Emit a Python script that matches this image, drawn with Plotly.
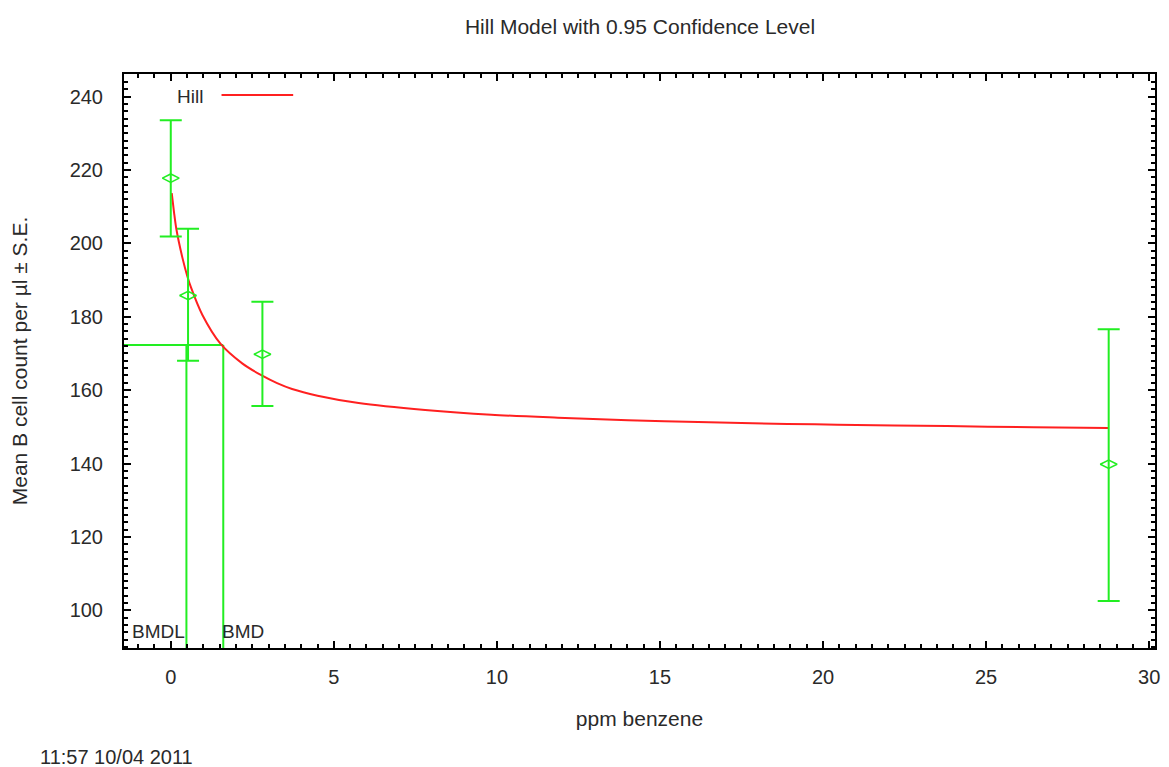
import plotly.graph_objects as go

# Observed data (dose, mean, upper/lower error bar ends)
dose = [0.0, 0.53, 2.81, 28.76]
mean = [217.8, 185.8, 169.8, 139.8]
upper = [233.6, 204.0, 184.1, 176.6]
lower = [201.9, 168.0, 155.7, 102.5]

# Hill model curve
curve_x = [0.03, 0.10, 0.17, 0.36, 0.51, 0.62, 0.97, 1.53, 2.19, 2.79, 3.26, 3.72, 4.5,
           5.76, 7.80, 9.83, 11.87, 14.02, 16.17, 18.91, 20.44, 23.80, 26.46, 28.75]
curve_y = [213.7, 208.5, 204.0, 196.0, 191.0, 188.0, 180.5, 172.6, 167.3, 164.0, 161.9, 160.3, 158.5,
           156.5, 154.6, 153.3, 152.5, 151.8, 151.3, 150.8, 150.6, 150.2, 149.9, 149.7]

bmd = 1.61
bmdl = 0.48
bmr_response = 172.3

x_range = [-1.434, 30.18]
y_range = [89.7, 246.2]
x_ticks = [0, 5, 10, 15, 20, 25, 30]
y_ticks = [100, 120, 140, 160, 180, 200, 220, 240]

GREEN = "#22ee22"
RED = "#ff2020"
FONT = "Liberation Sans, Arial, sans-serif"
TXT = "#2a2a2a"

W, H = 1169, 767
L, R, T, B = 124, 9, 74, 119
PW, PH = W - L - R, H - T - B

fig = go.Figure()

# BMD / BMDL guide lines
fig.add_trace(go.Scatter(
    x=[x_range[0], bmd, None, bmd, bmd, None, bmdl, bmdl],
    y=[bmr_response, bmr_response, None, y_range[0], bmr_response, None, y_range[0], bmr_response],
    mode="lines", line=dict(color=GREEN, width=2), showlegend=False, hoverinfo="skip"))

# model curve
fig.add_trace(go.Scatter(x=curve_x, y=curve_y, mode="lines",
                         line=dict(color=RED, width=2, shape="spline", smoothing=0.8),
                         showlegend=False, name="Hill"))

# data with error bars
fig.add_trace(go.Scatter(
    x=dose, y=mean, mode="markers",
    marker=dict(symbol="diamond-wide-open", size=12, color=GREEN, line=dict(color=GREEN, width=1.5)),
    error_y=dict(type="data", symmetric=False,
                 array=[u - m for u, m in zip(upper, mean)],
                 arrayminus=[m - l for m, l in zip(mean, lower)],
                 color=GREEN, thickness=2, width=11),
    showlegend=False))

axis_common = dict(showline=True, linecolor="black", linewidth=2, mirror="ticks",
                   ticks="inside", ticklen=7, tickwidth=2, tickcolor="black",
                   showgrid=False, zeroline=False,
                   tickfont=dict(family=FONT, size=20, color=TXT))

fig.update_xaxes(range=x_range, tickvals=x_ticks, ticklabelstandoff=10,
                 minor=dict(dtick=0.5, ticks="inside", ticklen=4, tickwidth=2, tickcolor="black", showgrid=False),
                 title=dict(text="ppm benzene", font=dict(family=FONT, size=21, color=TXT), standoff=24),
                 **axis_common)
fig.update_yaxes(range=y_range, tickvals=y_ticks, ticklabelstandoff=15,
                 minor=dict(dtick=2, ticks="inside", ticklen=4, tickwidth=2, tickcolor="black", showgrid=False),
                 title=dict(text="Mean B cell count per µl ± S.E.", font=dict(family=FONT, size=21, color=TXT), standoff=36),
                 **axis_common)

fig.update_layout(
    width=W, height=H,
    margin=dict(l=L, r=R, t=T, b=B),
    paper_bgcolor="white", plot_bgcolor="white",
    title=dict(text="Hill Model with 0.95 Confidence Level", x=640 / W, xanchor="center",
               y=1 - 27 / H, yanchor="middle",
               font=dict(family=FONT, size=21, color=TXT)),
    showlegend=False,
    annotations=[
        dict(text="Hill", xref="paper", yref="paper", x=(190 - L) / PW, y=(H - B - 96) / PH,
             xanchor="center", yanchor="middle", showarrow=False,
             font=dict(family=FONT, size=19, color=TXT)),
        dict(text="BMDL", xref="x", yref="paper", x=bmdl, y=(H - B - 631) / PH,
             xanchor="right", yanchor="middle", showarrow=False, xshift=1,
             font=dict(family=FONT, size=19, color=TXT)),
        dict(text="BMD", xref="x", yref="paper", x=bmd, y=(H - B - 631) / PH,
             xanchor="left", yanchor="middle", showarrow=False, xshift=-3,
             font=dict(family=FONT, size=19, color=TXT)),
        dict(text="11:57 10/04 2011", xref="paper", yref="paper", x=(38 - L) / PW, y=-(757 - (H - B)) / PH,
             xanchor="left", yanchor="middle", showarrow=False,
             font=dict(family=FONT, size=20, color=TXT)),
    ],
    shapes=[dict(type="line", xref="paper", yref="paper",
                 x0=(222 - L) / PW, x1=(294 - L) / PW,
                 y0=(H - B - 95) / PH, y1=(H - B - 95) / PH,
                 line=dict(color=RED, width=2))],
)

fig.write_html("out.html", config={"displayModeBar": False},
               post_script="document.body.style.margin='0';document.body.style.overflow='hidden';")
